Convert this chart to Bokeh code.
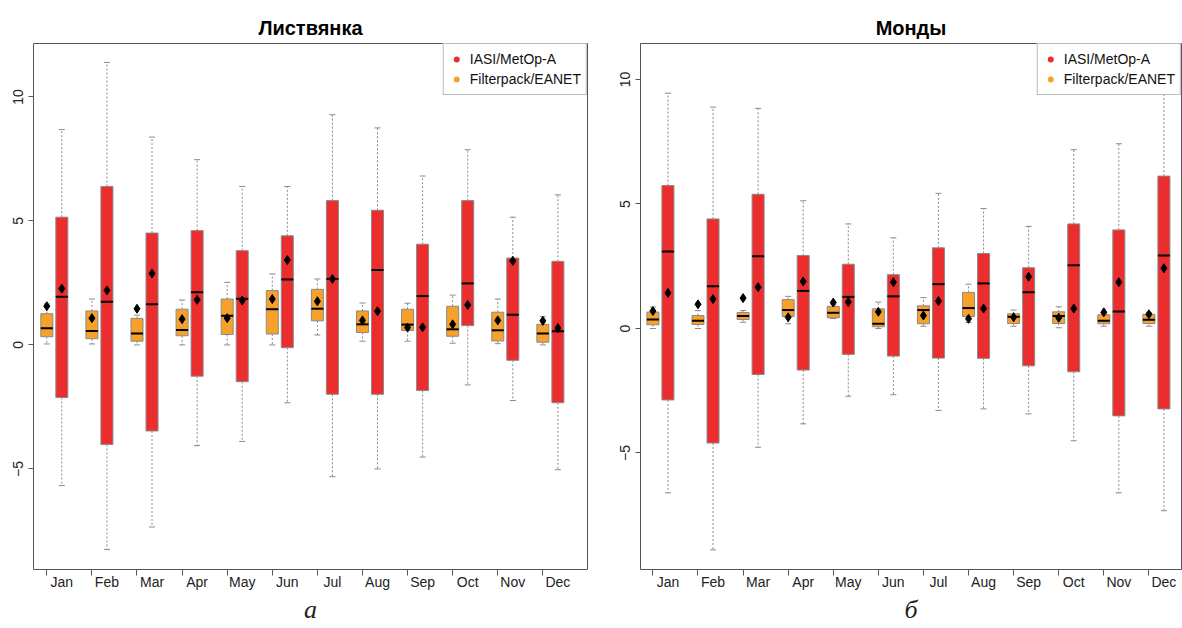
from bokeh.plotting import figure
from bokeh.models import (Range1d, FixedTicker, Legend, LegendItem,
                          ColumnDataSource)
from bokeh.layouts import row
from bokeh.embed import file_html
from bokeh.resources import INLINE

months = ["Jan", "Feb", "Mar", "Apr", "May", "Jun",
          "Jul", "Aug", "Sep", "Oct", "Nov", "Dec"]

# ---- Листвянка ----
L_fp_low  = [0.04, 0.04, 0.00, 0.00, 0.00, 0.00, 0.40, 0.15, 0.15, 0.07, 0.05, 0.00]
L_fp_q1   = [0.33, 0.25, 0.15, 0.37, 0.42, 0.44, 0.97, 0.50, 0.58, 0.35, 0.16, 0.11]
L_fp_med  = [0.67, 0.56, 0.46, 0.60, 1.18, 1.44, 1.46, 0.83, 0.82, 0.63, 0.59, 0.46]
L_fp_q3   = [1.26, 1.37, 1.07, 1.44, 1.85, 2.19, 2.24, 1.37, 1.44, 1.56, 1.32, 0.83]
L_fp_high = [1.65, 1.85, 1.20, 1.81, 2.52, 2.86, 2.66, 1.69, 1.68, 2.01, 1.85, 1.14]
L_fp_mean = [1.56, 1.08, 1.46, 1.04, 1.08, 1.85, 1.76, 0.99, 0.70, 0.83, 0.99, 0.97]

L_ia_low  = [-5.67, -8.25, -7.34, -4.06, -3.89, -2.33, -5.31, -5.00, -4.52, -1.61, -2.24, -5.03]
L_ia_q1   = [-2.12, -4.01, -3.47, -1.26, -1.48, -0.11, -1.99, -1.99, -1.84, 0.78, -0.62, -2.33]
L_ia_med  = [1.94, 1.74, 1.64, 2.12, 1.86, 2.64, 2.66, 3.02, 1.97, 2.48, 1.22, 0.55]
L_ia_q3   = [5.15, 6.39, 4.51, 4.61, 3.80, 4.40, 5.82, 5.43, 4.06, 5.82, 3.50, 3.37]
L_ia_high = [8.68, 11.39, 8.38, 7.47, 6.39, 6.39, 9.28, 8.75, 6.81, 7.87, 5.15, 6.05]
L_ia_mean = [2.27, 2.20, 2.88, 1.82, 1.79, 3.42, 2.66, 1.36, 0.71, 1.61, 3.39, 0.68]

# ---- Монды ----
M_fp_low  = [0.00, 0.00, 0.25, 0.19, 0.40, 0.00, 0.09, 0.24, 0.09, 0.03, 0.09, 0.09]
M_fp_q1   = [0.15, 0.16, 0.36, 0.48, 0.43, 0.07, 0.19, 0.48, 0.20, 0.20, 0.19, 0.20]
M_fp_med  = [0.36, 0.31, 0.50, 0.74, 0.63, 0.19, 0.74, 0.82, 0.47, 0.50, 0.31, 0.35]
M_fp_q3   = [0.66, 0.52, 0.64, 1.16, 0.89, 0.79, 0.91, 1.45, 0.59, 0.67, 0.55, 0.57]
M_fp_high = [0.86, 0.72, 0.72, 1.29, 0.97, 1.06, 1.24, 1.78, 0.74, 0.87, 0.62, 0.64]
M_fp_mean = [0.70, 0.97, 1.22, 0.45, 1.04, 0.67, 0.52, 0.39, 0.45, 0.43, 0.65, 0.57]

M_ia_low  = [-6.60, -8.89, -4.77, -3.83, -2.72, -2.66, -3.29, -3.23, -3.43, -4.51, -6.60, -7.32]
M_ia_q1   = [-2.87, -4.60, -1.85, -1.67, -1.04, -1.11, -1.19, -1.20, -1.50, -1.74, -3.51, -3.23]
M_ia_med  = [3.09, 1.70, 2.90, 1.51, 1.27, 1.29, 1.78, 1.81, 1.46, 2.54, 0.68, 2.93]
M_ia_q3   = [5.74, 4.40, 5.39, 2.93, 2.58, 2.16, 3.24, 3.01, 2.44, 4.20, 3.96, 6.12]
M_ia_high = [9.45, 8.89, 8.84, 5.13, 4.20, 3.64, 5.43, 4.82, 4.10, 7.18, 7.42, 10.6]
M_ia_mean = [1.43, 1.18, 1.66, 1.89, 1.06, 1.86, 1.10, 0.80, 2.08, 0.80, 1.86, 2.42]

y_ticks = [-5, 0, 5, 10]
series_names = ["IASI/MetOp-A", "Filterpack/EANET"]

RED = "#EC2D2E"
ORANGE = "#F7A12A"
EDGE = "#8a8a8a"
FRAME = "#555555"
FONT = "Liberation Sans"

fp_pos = [3 * i + 1 for i in range(12)]
ia_pos = [3 * i + 2 for i in range(12)]
BW = 0.8


def draw_boxes(p, pos, low, q1, med, q3, high, mean, color):
    src = ColumnDataSource(dict(
        x=pos, low=low, q1=q1, med=med, q3=q3, high=high, mean=mean,
        xl=[x - BW / 2 for x in pos], xr=[x + BW / 2 for x in pos],
        cl=[x - BW / 4 for x in pos], cr=[x + BW / 4 for x in pos]))
    p.segment(x0="x", y0="q3", x1="x", y1="high", source=src,
              line_color=EDGE, line_dash="2 2", line_width=1)
    p.segment(x0="x", y0="q1", x1="x", y1="low", source=src,
              line_color=EDGE, line_dash="2 2", line_width=1)
    p.segment(x0="cl", y0="high", x1="cr", y1="high", source=src,
              line_color=EDGE, line_width=1)
    p.segment(x0="cl", y0="low", x1="cr", y1="low", source=src,
              line_color=EDGE, line_width=1)
    p.vbar(x="x", width=BW, bottom="q1", top="q3", source=src,
           fill_color=color, line_color=EDGE, line_width=1)
    p.segment(x0="xl", y0="med", x1="xr", y1="med", source=src,
              line_color="black", line_width=2)
    p.scatter(x="x", y="mean", source=src, marker="diamond", size=9,
              fill_color="black", line_color="black")
    # invisible in the plot (size 0): only gives the legend its coloured dot
    key = p.scatter(x="x", y="med", source=src, marker="circle", size=0,
                    fill_color=color, line_color=None)
    return key


def make_panel(title, sub, data_fp, data_ia, width, bl, br, bb, xr, yr):
    p = figure(width=width, height=628, output_backend="svg",
               toolbar_location=None, x_range=Range1d(*xr),
               y_range=Range1d(*yr), min_border_left=bl,
               min_border_right=br, min_border_top=43, min_border_bottom=bb)
    p.grid.visible = False
    p.outline_line_color = FRAME
    p.outline_line_width = 1
    p.background_fill_color = "white"

    p.title.text = title
    p.title.align = "center"
    p.title.text_font = FONT
    p.title.text_font_style = "bold"
    p.title.text_font_size = "20px"
    p.title.text_color = "black"

    k_fp = draw_boxes(p, fp_pos, *data_fp, ORANGE)
    k_ia = draw_boxes(p, ia_pos, *data_ia, RED)

    xa = p.xaxis[0]
    xa.ticker = FixedTicker(ticks=ia_pos, minor_ticks=fp_pos)
    xa.major_label_overrides = {x: m for x, m in zip(ia_pos, months)}
    xa.major_tick_line_color = None
    xa.major_tick_out = 0
    xa.major_tick_in = 0
    xa.minor_tick_line_color = FRAME
    xa.minor_tick_out = 6
    xa.minor_tick_in = 0
    xa.axis_line_color = None
    xa.major_label_standoff = -2
    xa.major_label_text_font = FONT
    xa.major_label_text_font_size = "14px"
    xa.major_label_text_color = "#222222"
    xa.axis_label = sub
    xa.axis_label_text_font = "Liberation Serif"
    xa.axis_label_text_font_style = "italic"
    xa.axis_label_text_font_size = "26px"
    xa.axis_label_text_color = "#222222"
    xa.axis_label_standoff = 2

    ya = p.yaxis[0]
    ya.ticker = FixedTicker(ticks=y_ticks)
    ya.major_label_orientation = "vertical"
    ya.major_tick_line_color = FRAME
    ya.major_tick_out = 5
    ya.major_tick_in = 0
    ya.minor_tick_line_color = None
    ya.axis_line_color = None
    ya.major_label_standoff = 5
    ya.major_label_text_font = FONT
    ya.major_label_text_font_size = "14px"
    ya.major_label_text_color = "#222222"

    leg = Legend(items=[LegendItem(label=series_names[0], renderers=[k_ia]),
                        LegendItem(label=series_names[1], renderers=[k_fp])],
                 location="top_right", margin=0, padding=5, spacing=0,
                 glyph_width=15, glyph_height=16, label_height=20,
                 label_standoff=6, label_text_font=FONT,
                 label_text_font_size="14px", label_text_color="#111111",
                 border_line_color="#777777", border_line_width=1,
                 background_fill_color="white", background_fill_alpha=1)
    p.add_layout(leg)
    return p


p1 = make_panel("Листвянка", "а",
                (L_fp_low, L_fp_q1, L_fp_med, L_fp_q3, L_fp_high, L_fp_mean),
                (L_ia_low, L_ia_q1, L_ia_med, L_ia_q3, L_ia_high, L_ia_mean),
                width=596, bl=33, br=9, bb=58,
                xr=(0.115, 36.97), yr=(-9.054, 12.153))

p2 = make_panel("Монды", "б",
                (M_fp_low, M_fp_q1, M_fp_med, M_fp_q3, M_fp_high, M_fp_mean),
                (M_ia_low, M_ia_q1, M_ia_med, M_ia_q3, M_ia_high, M_ia_mean),
                width=586, bl=44, br=1, bb=59,
                xr=(0.175, 36.17), yr=(-9.68, 11.446))

layout = row(p1, p2)
open("out.html", "w").write(file_html(layout, INLINE))
